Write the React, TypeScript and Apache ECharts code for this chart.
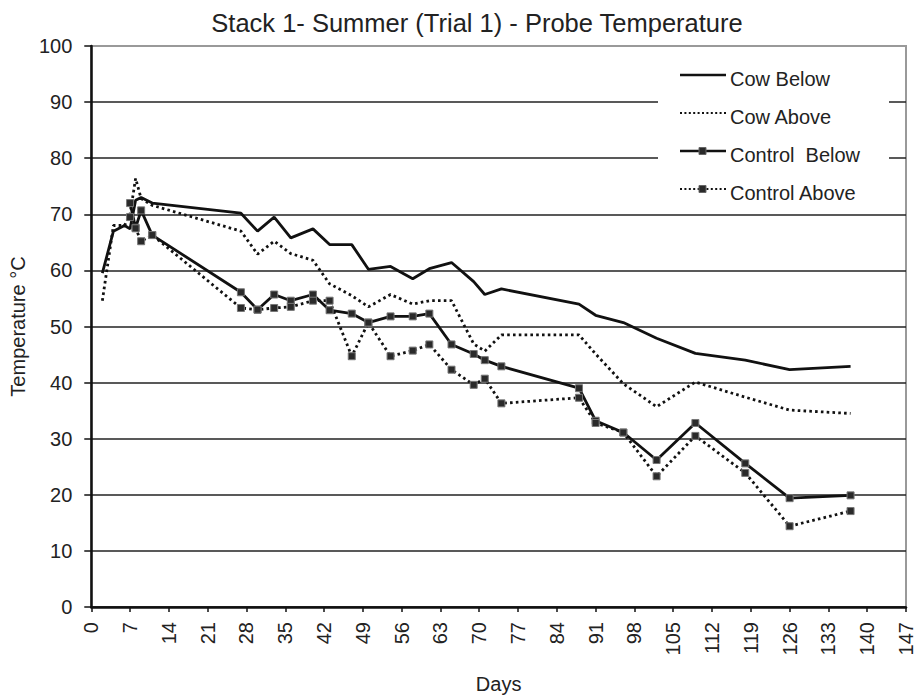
import React, { useEffect, useRef } from "react";
import * as echarts from "echarts";

const FONT = "'Liberation Sans', Arial, Helvetica, sans-serif";

const titleText = "Stack 1- Summer (Trial 1) - Probe Temperature";
const xAxisName = "Days";
const yAxisName = "Temperature °C";

const cowDays = [2, 4, 6, 7, 8, 9, 11, 27, 30, 33, 36, 40, 43, 47, 50, 54, 58, 61, 65, 69, 71, 74, 88, 91, 96, 102, 109, 118, 126, 137];
const cowBelow = [59.5, 67, 68, 67.4, 72.5, 73, 72, 70.2, 67, 69.5, 65.8, 67.4, 64.6, 64.6, 60.2, 60.7, 58.5, 60.3, 61.4, 58, 55.7, 56.7, 54, 52, 50.7, 47.9, 45.2, 44, 42.3, 42.9];
const cowAbove = [54.6, 68, 68, 70, 76.4, 72.8, 71.6, 67, 62.9, 65.2, 63, 61.8, 57.6, 55.5, 53.5, 55.7, 54, 54.6, 54.6, 46.9, 45.6, 48.5, 48.5, 45.1, 39.8, 35.7, 40.1, 37.4, 35.1, 34.5];

const controlDays = [7, 8, 9, 11, 27, 30, 33, 36, 40, 43, 47, 50, 54, 58, 61, 65, 69, 71, 74, 88, 91, 96, 102, 109, 118, 126, 137];
const controlBelow = [72, 67.6, 70.7, 66.3, 56.1, 53, 55.7, 54.6, 55.7, 52.9, 52.3, 50.7, 51.8, 51.8, 52.3, 46.8, 45.1, 44, 42.9, 39, 33.2, 31.1, 26.2, 32.8, 25.6, 19.4, 19.9];
const controlAbove = [69.5, 67.5, 65.2, 66.3, 53.3, 53, 53.3, 53.5, 54.6, 54.6, 44.7, 50.7, 44.7, 45.7, 46.8, 42.3, 39.6, 40.7, 36.3, 37.3, 32.8, 31.1, 23.3, 30.5, 23.9, 14.4, 17.1];

const legendNames = ["Cow Below", "Cow Above", "Control  Below", "Control Above"];

const LINE = "#111";
const DOT: number[] = [2.6, 3.2];

function pairs(xs: number[], ys: number[]) {
  return xs.map((x, i) => [x, ys[i]]);
}

export default function App() {
  const ref = useRef<HTMLDivElement>(null);
  useEffect(() => {
    if (!ref.current) return;
    const chart = echarts.init(ref.current, undefined, { renderer: "svg" });

    const legendStyles = [
      { dash: null, marker: false },
      { dash: DOT, marker: false },
      { dash: null, marker: true },
      { dash: DOT, marker: true },
    ];
    const legendGraphics: any[] = [
      {
        type: "rect",
        z: 100,
        shape: { x: 658, y: 60, width: 231, height: 150 },
        style: { fill: "#fff" },
      },
    ];
    legendNames.forEach((name, i) => {
      const y = 75 + i * 38;
      const st = legendStyles[i];
      legendGraphics.push({
        type: "line",
        z: 101,
        shape: { x1: 680, y1: y, x2: 726, y2: y },
        style: {
          stroke: LINE,
          lineWidth: st.dash ? 2.2 : 2.6,
          lineDash: st.dash ? [2, 2.4] : null,
        },
      });
      if (st.marker) {
        legendGraphics.push({
          type: "rect",
          z: 102,
          shape: { x: 699, y: y - 3.5, width: 7, height: 7 },
          style: { fill: "#2a2a2a", stroke: "#666", lineWidth: 1 },
        });
      }
      legendGraphics.push({
        type: "text",
        z: 102,
        x: 730,
        y: y + 4,
        style: {
          text: name,
          font: `20px ${FONT}`,
          fill: "#222",
          verticalAlign: "middle",
          align: "left",
        },
      });
    });

    chart.setOption({
      animation: false,
      backgroundColor: "#fff",
      title: {
        text: titleText,
        left: 472,
        textAlign: "center",
        top: 5,
        textStyle: { fontFamily: FONT, fontSize: 25.5, fontWeight: "normal", color: "#222" },
      },
      grid: {
        left: 91,
        right: 9,
        top: 46,
        bottom: 91,
        show: true,
        borderColor: "#999",
        borderWidth: 2,
        backgroundColor: "transparent",
      },
      xAxis: {
        type: "value",
        min: 0,
        max: 147,
        interval: 7,
        name: xAxisName,
        nameLocation: "middle",
        nameGap: 67,
        nameTextStyle: { fontFamily: FONT, fontSize: 20, color: "#222" },
        axisLine: { show: true, lineStyle: { color: LINE, width: 2.5 } },
        axisTick: { show: true, length: 5, lineStyle: { color: LINE, width: 1.5 } },
        axisLabel: { rotate: 90, fontFamily: FONT, fontSize: 20, color: "#222", margin: 15 },
        splitLine: { show: false },
      },
      yAxis: {
        type: "value",
        min: 0,
        max: 100,
        interval: 10,
        name: yAxisName,
        nameLocation: "middle",
        nameGap: 63,
        nameTextStyle: { fontFamily: FONT, fontSize: 20, color: "#222" },
        axisLine: { show: true, lineStyle: { color: LINE, width: 2.5 } },
        axisTick: { show: true, length: 7, lineStyle: { color: LINE, width: 1.5 } },
        axisLabel: { fontFamily: FONT, fontSize: 20, color: "#222", margin: 19 },
        splitLine: { show: true, showMaxLine: false, lineStyle: { color: "#222", width: 1.5 } },
      },
      graphic: legendGraphics,
      series: [
        {
          name: "Cow Below",
          type: "line",
          data: pairs(cowDays, cowBelow),
          symbol: "none",
          lineStyle: { color: LINE, width: 2.8 },
        },
        {
          name: "Cow Above",
          type: "line",
          data: pairs(cowDays, cowAbove),
          symbol: "none",
          lineStyle: { color: LINE, width: 2.8, type: DOT, cap: "butt" },
        },
        {
          name: "Control Below",
          type: "line",
          data: pairs(controlDays, controlBelow),
          symbol: "rect",
          symbolSize: 7,
          showSymbol: true,
          itemStyle: { color: "#2a2a2a", borderColor: "#777", borderWidth: 1 },
          lineStyle: { color: LINE, width: 2.8 },
        },
        {
          name: "Control Above",
          type: "line",
          data: pairs(controlDays, controlAbove),
          symbol: "rect",
          symbolSize: 7,
          showSymbol: true,
          itemStyle: { color: "#2a2a2a", borderColor: "#777", borderWidth: 1 },
          lineStyle: { color: LINE, width: 2.8, type: DOT, cap: "butt" },
        },
      ],
    });
    return () => chart.dispose();
  }, []);

  return (
    <div
      ref={ref}
      style={{ position: "absolute", left: 0, top: 0, width: 916, height: 699 }}
    />
  );
}
